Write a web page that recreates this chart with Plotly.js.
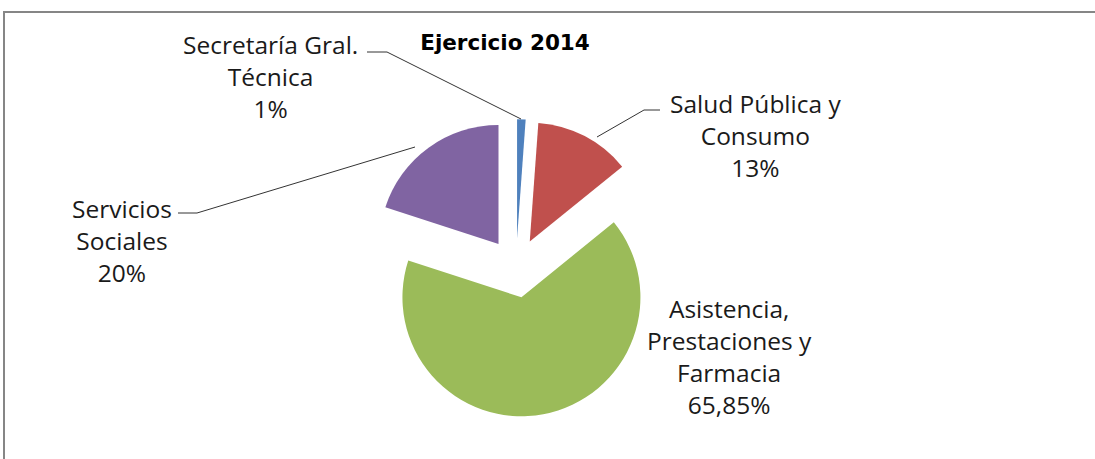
<!DOCTYPE html>
<html><head><meta charset="utf-8">
<script src="https://cdn.plot.ly/plotly-3.0.1.min.js"></script>
<style>html,body{margin:0;padding:0;background:#fff;}#chart{width:1095px;height:459px;}</style>
</head><body><div id="chart"></div>
<script>
// ---- data ----
const categories = ["Secretaría Gral. Técnica", "Salud Pública y Consumo", "Asistencia, Prestaciones y Farmacia", "Servicios Sociales"];
const values = [1.15, 13, 65.85, 20];
const percentLabels = ["1%", "13%", "65,85%", "20%"];
const labelLines = [["Secretaría Gral.", "Técnica"], ["Salud Pública y", "Consumo"], ["Asistencia,", "Prestaciones y", "Farmacia"], ["Servicios", "Sociales"]];
const chartTitle = "Ejercicio 2014";

// ---- style / layout ----
const colors = ["#4F81BD", "#C0504D", "#9BBB59", "#8064A2"];
const W = 1095, H = 459;
const px = x => x / W;
const py = y => 1 - y / H;
const labelCenters = [[270, 76], [755, 135], [729, 356], [122, 241]];
const leaderPaths = [
  [[367, 52], [387, 52], [521, 119]],
  [[660, 110], [644, 110], [597, 137]],
  [[178, 213], [197, 213], [415, 147]]
];
const labelFont = {family: "Open Sans", size: 24.5, color: "#1a1a1a"};

const annotations = categories.map((c, i) => ({
  x: px(labelCenters[i][0]), y: py(labelCenters[i][1]),
  xref: "paper", yref: "paper",
  text: labelLines[i].concat([percentLabels[i]]).join("<br>"),
  showarrow: false, align: "center",
  xanchor: "center", yanchor: "middle", font: labelFont
}));

const shapes = leaderPaths.map(p => ({
  type: "path", xref: "paper", yref: "paper",
  path: p.map((pt, k) => (k ? "L" : "M") + px(pt[0]) + "," + py(pt[1])).join(" "),
  line: {color: "#333333", width: 1}
}));
shapes.push({type: "rect", xref: "paper", yref: "paper",
  x0: px(4), x1: px(1115), y0: py(480), y1: py(12),
  line: {color: "#868686", width: 2}, fillcolor: "rgba(0,0,0,0)"});

const r = 119, pull = 0.25, cx = 516, cy = 268;
const avail = 2 * r * (1 + pull);
const y0 = 1 - (cy + avail / 2) / H;
const y1 = y0 + avail / H;

const trace = {
  type: "pie", values: values, labels: categories,
  sort: false, direction: "clockwise", rotation: 0,
  pull: pull, textinfo: "none", hoverinfo: "label+percent",
  marker: {colors: colors, line: {width: 0}},
  domain: {x: [px(cx) - 0.3, px(cx) + 0.3], y: [y0, y1]},
  showlegend: false
};

const layout = {
  width: W, height: H,
  margin: {l: 0, r: 0, t: 0, b: 0, pad: 0},
  paper_bgcolor: "#ffffff",
  title: {text: chartTitle, x: px(505), xanchor: "center", y: py(42), yanchor: "middle",
    font: {family: "DejaVu Sans", size: 21.5, weight: "bold", color: "#000000"}},
  annotations: annotations,
  shapes: shapes
};

Plotly.newPlot("chart", [trace], layout, {displayModeBar: false, staticPlot: true});
</script>
</body></html>
